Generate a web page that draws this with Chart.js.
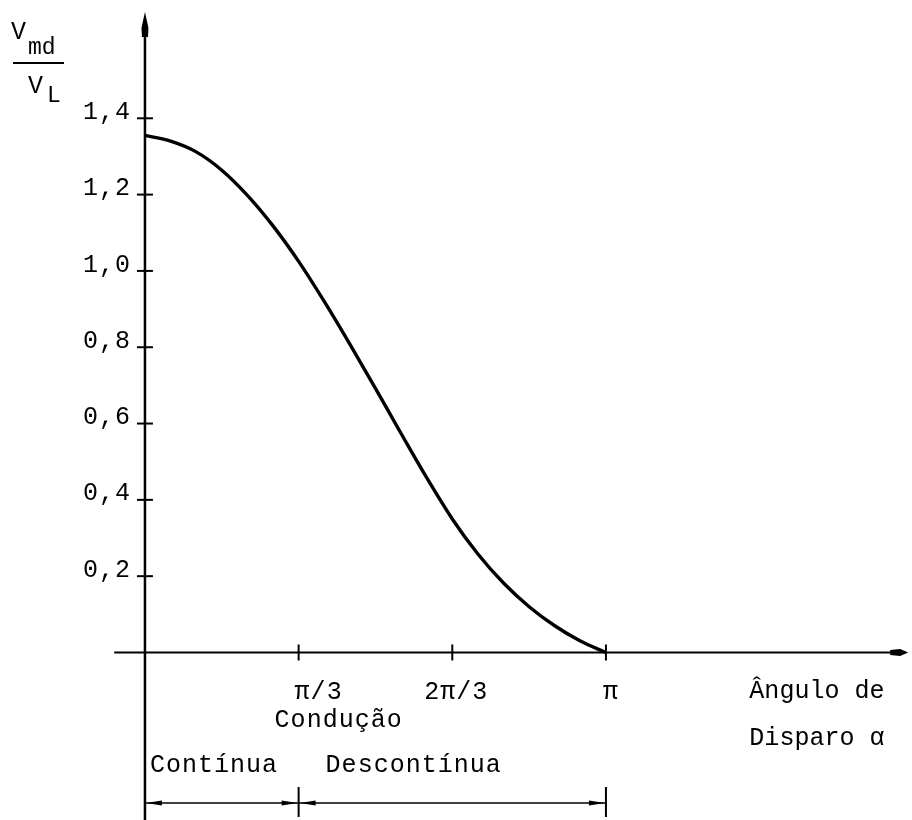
<!DOCTYPE html>
<html>
<head>
<meta charset="utf-8">
<script src="https://cdn.jsdelivr.net/npm/chart.js@4/dist/chart.umd.min.js"></script>
<style>
  html, body { margin: 0; padding: 0; background: #fff; }
  #wrap { width: 912px; height: 820px; }
</style>
</head>
<body>
<div id="wrap"><canvas id="c" width="912" height="820"></canvas></div>
<script>
// ---- data ----
const alphaDeg  = [0, 10, 20, 30, 40, 50, 60, 70, 80, 90, 100, 110, 120, 130, 140, 150, 160, 170, 180];
const vmdOverVL = [1.355, 1.340, 1.312, 1.264, 1.198, 1.118, 1.025, 0.920, 0.808, 0.692, 0.574, 0.458, 0.350, 0.258, 0.182, 0.120, 0.070, 0.030, 0];
const yTickValues = [0.2, 0.4, 0.6, 0.8, 1.0, 1.2, 1.4];
const yTickLabels = ['0,2', '0,4', '0,6', '0,8', '1,0', '1,2', '1,4'];
const xTickValues = [60, 120, 180];
const xTickLabels = ['π/3', '2π/3', 'π'];
const xAxisTitle = ['Ângulo de', 'Disparo α'];
const regionTitle = 'Condução';
const regionLabels = ['Contínua', 'Descontínua'];
const regionBounds = [0, 60, 180];

const FONT = '"Liberation Mono", "Courier New", monospace';

const figurePlugin = {
  id: 'figure',
  beforeDatasetsDraw(chart) {
    const { ctx, scales: { x, y } } = chart;
    const x0 = x.getPixelForValue(0), y0 = y.getPixelForValue(0);
    ctx.save();
    ctx.strokeStyle = '#000';
    ctx.fillStyle = '#000';
    ctx.lineCap = 'butt';
    const line = (a, b, c, d, w) => { ctx.lineWidth = w; ctx.beginPath(); ctx.moveTo(a, b); ctx.lineTo(c, d); ctx.stroke(); };

    // y axis with arrow
    line(x0, 32, x0, 820, 2.5);
    ctx.beginPath();
    ctx.moveTo(x0, 12); ctx.lineTo(x0 + 3.5, 28); ctx.lineTo(x0 + 3, 37);
    ctx.lineTo(x0 - 3, 37); ctx.lineTo(x0 - 3.5, 28); ctx.closePath(); ctx.fill();

    // x axis with arrow
    const xEnd = x.getPixelForValue(298);
    line(x.getPixelForValue(-12), y0, xEnd - 14, y0, 2.2);
    ctx.beginPath();
    ctx.moveTo(xEnd, y0); ctx.lineTo(xEnd - 8, y0 - 3.5); ctx.lineTo(xEnd - 18, y0 - 2.5);
    ctx.lineTo(xEnd - 18, y0 + 2.5); ctx.lineTo(xEnd - 8, y0 + 3.5); ctx.closePath(); ctx.fill();

    // y ticks
    yTickValues.forEach(v => { const py = y.getPixelForValue(v); line(x0 - 8, py, x0 + 8, py, 2); });
    // x ticks
    xTickValues.forEach(v => { const px = x.getPixelForValue(v); line(px, y0 - 8, px, y0 + 8, 2); });

    // dimension line for conduction regions
    const dy = y0 + 150.5;
    const bx = regionBounds.map(v => x.getPixelForValue(v));
    line(bx[0], dy, bx[2], dy, 1.6);
    [bx[1], bx[2]].forEach(px => line(px, dy - 16, px, dy + 14, 2));
    const head = (tip, dir) => {
      ctx.beginPath();
      ctx.moveTo(tip, dy); ctx.lineTo(tip - dir * 16, dy - 2.5); ctx.lineTo(tip - dir * 16, dy + 2.5);
      ctx.closePath(); ctx.fill();
    };
    head(bx[0] + 1, -1); head(bx[1] - 1, 1); head(bx[1] + 1, -1); head(bx[2] - 1, 1);
    ctx.restore();
  },
  afterDraw(chart) {
    const { ctx, scales: { x, y } } = chart;
    const x0 = x.getPixelForValue(0), y0 = y.getPixelForValue(0);
    ctx.save();
    ctx.fillStyle = '#000';
    ctx.font = '25px ' + FONT;
    ctx.letterSpacing = '1px';
    ctx.textBaseline = 'middle';

    // y tick labels
    ctx.textAlign = 'right';
    yTickValues.forEach((v, i) => ctx.fillText(yTickLabels[i], x0 - 14, y.getPixelForValue(v) - 6));

    // x tick labels
    ctx.textAlign = 'left';
    const xOff = [-4, -28, -3];
    xTickValues.forEach((v, i) => ctx.fillText(xTickLabels[i], x.getPixelForValue(v) + xOff[i], y0 + 40));

    // region labels
    ctx.fillText(regionTitle, x.getPixelForValue(60) - 24, y0 + 68);
    ctx.fillText(regionLabels[0], x0 + 5, y0 + 113);
    ctx.fillText(regionLabels[1], x.getPixelForValue(60) + 27, y0 + 113);

    // axis title (right)
    ctx.letterSpacing = '0px';
    ctx.fillText(xAxisTitle[0], x.getPixelForValue(236), y0 + 39);
    ctx.fillText(xAxisTitle[1], x.getPixelForValue(236), y0 + 86);

    // y axis title V_md / V_L
    ctx.textBaseline = 'alphabetic';
    ctx.font = '25px ' + FONT;
    ctx.fillText('V', 11, 39);
    ctx.font = '23px ' + FONT;
    ctx.fillText('md', 28, 54);
    ctx.font = '25px ' + FONT;
    ctx.fillText('V', 28, 93);
    ctx.font = '23px ' + FONT;
    ctx.fillText('L', 47, 102);
    ctx.fillRect(13, 62, 51, 2);
    ctx.restore();
  }
};

new Chart(document.getElementById('c'), {
  type: 'line',
  data: {
    datasets: [{
      data: alphaDeg.map((a, i) => ({ x: a, y: vmdOverVL[i] })),
      borderColor: '#000',
      borderWidth: 3.4,
      pointRadius: 0,
      fill: false,
      cubicInterpolationMode: 'monotone'
    }]
  },
  options: {
    responsive: false,
    devicePixelRatio: 1,
    animation: false,
    layout: { padding: 0 },
    plugins: { legend: { display: false }, tooltip: { enabled: false }, title: { display: false } },
    scales: {
      x: { type: 'linear', min: -56.6, max: 299.5, display: false },
      y: { type: 'linear', min: -0.439, max: 1.710, display: false }
    }
  },
  plugins: [figurePlugin]
});
</script>
</body>
</html>
